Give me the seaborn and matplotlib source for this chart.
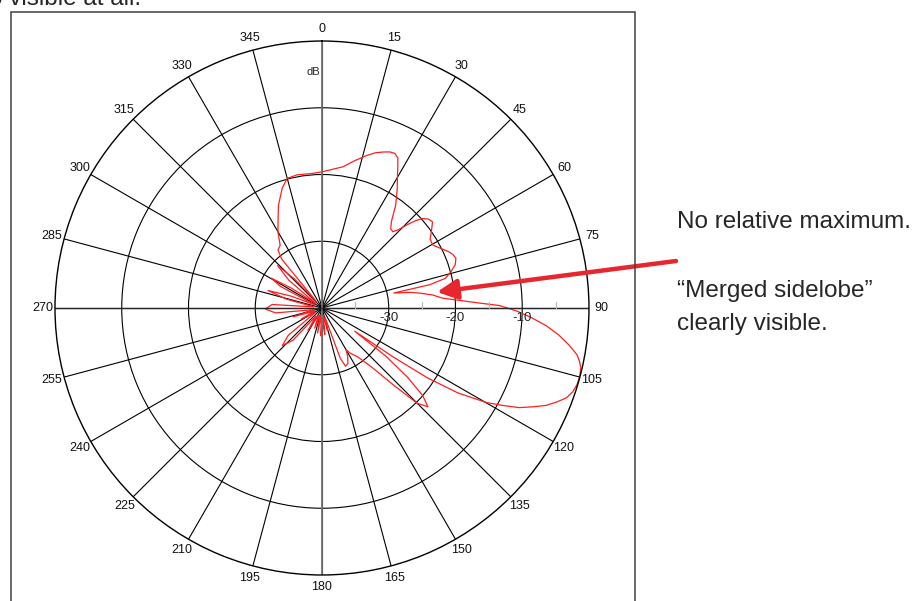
#bibliotecas
import numpy as np
import matplotlib.pyplot as plt
import seaborn as sns
from matplotlib.patches import Rectangle
from matplotlib.transforms import offset_copy

#diagrama: angulo (graus, horario a partir do topo) e nivel (dB)
angle_deg = [0, 4, 8.5, 12.5, 16.3, 19, 21.4, 23.5, 25.2, 26.8, 28, 30, 32.3, 35.7, 38.8,
             41, 42.9, 44.3, 45.5, 47, 48.4, 50.2, 52.1, 55, 57.5, 60.4, 63, 65.8, 67.8,
             69.6, 72, 74.2, 76.5, 77.8, 78.2, 80, 81.3, 83.3, 85.3, 88.2, 89.2, 90.9, 92.7,
             94.6, 96.5, 98.5, 100.4, 101.7, 103, 104.8, 106.7, 108.5, 110.2, 111.8, 113.5,
             115, 116.8, 118.3, 119.9, 122, 123.5, 124.5, 125.3, 127, 129, 131, 133, 135,
             137, 140, 144, 148, 150, 152, 155, 158, 160, 162, 166, 170, 174, 178, 182, 186,
             190, 195, 200, 206, 212, 217, 222, 226.5, 231, 236, 242, 247, 253, 258, 264,
             269, 274, 278, 284, 288, 291, 294, 297.5, 300.5, 303, 306, 310, 313.7, 316.5,
             318.8, 320.5, 322.8, 326.3, 330, 333.2, 337, 341.6, 344.9, 349.4, 354.9]
level_db = [-19.6, -19.2, -18.6, -17.4, -16.2, -15.4, -14.9, -14.5, -14.4, -14.8, -15.8,
            -17.4, -18.9, -21.1, -23.4, -24.3, -24.4, -23.6, -22.3, -20.8, -19.8, -19.2,
            -19.0, -20.0, -20.8, -20.9, -20.2, -19.3, -18.8, -18.6, -19.0, -19.9, -21.0,
            -23.5, -29.0, -26.5, -25.2, -23.3, -21.9, -16.4, -13.4, -10.8, -8.5, -6.2, -4.3,
            -2.6, -1.15, -0.6, -0.2, -0.05, -0.1, -0.4, -1.0, -2.1, -3.4, -5.0, -6.9, -9.2,
            -11.6, -16.0, -21.0, -27.0, -34.0, -28.0, -23.5, -20.0, -18.3, -19.8, -24.0,
            -28.5, -31.0, -32.0, -32.8, -31.8, -30.8, -30.6, -32.0, -38.5, -36.5, -38.8,
            -36.0, -38.8, -35.8, -38.8, -36.2, -38.8, -36.8, -38.8, -36.0, -38.5, -33.5,
            -31.8, -33.5, -38.8, -36.5, -38.8, -35.5, -38.8, -33.0, -31.5, -32.5, -38.8,
            -34.5, -31.5, -35.0, -38.8, -33.0, -31.2, -34.5, -38.8, -33.5, -30.8, -34.0,
            -38.8, -30.5, -29.1, -28.7, -26.8, -25.4, -23.3, -21.1, -19.9, -19.7, -19.8]

theta_ticks = list(range(0, 360, 15))
theta_labels = [str(t) for t in theta_ticks]
ring_db = [-30, -20, -10]
ring_labels = ['-30', '-20', '-10']
minor_r = [-35, -25, -15, -5]

sns.set_style('white')
plt.rcParams['font.family'] = ['Liberation Sans', 'DejaVu Sans']

fig = plt.figure(figsize=(9.17, 6.01), dpi=100)
ax = fig.add_axes([0.05998, 0.04326, 0.5823, 0.8885], projection='polar')
ax.set_theta_zero_location('N')
ax.set_theta_direction(-1)

#curva do diagrama
sns.lineplot(x=np.deg2rad(angle_deg + [360]), y=level_db + [level_db[0]],
             ax=ax, sort=False, estimator=None, color='#ff1f1f', lw=0.9)

ax.set_ylim(-40, 0)
ax.set_xlabel('')
ax.set_ylabel('')

#grade
ax.set_xticks(np.deg2rad(theta_ticks))
ax.set_xticklabels(theta_labels, fontsize=9, color='#111111')
ax.set_xticks(np.deg2rad(np.arange(0, 360, 5)), minor=True)
ax.set_yticks(ring_db)
ax.set_yticklabels([])
ax.grid(True, color='black', lw=0.8)
ax.tick_params(axis='x', which='major', length=0, pad=2)
ax.tick_params(axis='x', which='minor', direction='in', length=5, color='0.75', width=0.8)
ax.spines['polar'].set_color('black')
ax.spines['polar'].set_linewidth(1)

for a in [0, 180]:
    ax.axvline(np.deg2rad(a), color='0.45', lw=1.3)
for a in [90, 270]:
    ax.axvline(np.deg2rad(a), color='0.15', lw=1.0)

ax.plot(np.deg2rad([90] * len(minor_r)), minor_r, ls='none', marker=2, ms=4,
        color='0.72', mew=0.8)

lab_tr = offset_copy(ax.transData, fig=fig, x=0, y=-4, units='dots')
for r, lab in zip(ring_db, ring_labels):
    ax.text(np.deg2rad(90), r, lab, transform=lab_tr, ha='center', va='top', fontsize=9.5)

fig.text(313 / 917, 1 - 72 / 601, 'dB', ha='center', va='center', fontsize=8)

#moldura e textos
fig.add_artist(Rectangle((11 / 917, -0.05), 624 / 917, (601 - 12) / 601 + 0.05,
                         transform=fig.transFigure, fill=False, lw=1.1, edgecolor='0.25'))
fig.text(-11 / 917, 1 - 5 / 601, 'o visible at all.', fontsize=17.5, va='baseline')
fig.text(677 / 917, 1 - 228 / 601, 'No relative maximum.', fontsize=17.5, va='baseline')
fig.text(677 / 917, 1 - 297 / 601, '\u201cMerged sidelobe\u201d', fontsize=17.5, va='baseline')
fig.text(677 / 917, 1 - 330 / 601, 'clearly visible.', fontsize=17.5, va='baseline')

ax.annotate('', xy=(437, 601 - 292), xytext=(676, 601 - 261),
            xycoords='figure pixels', textcoords='figure pixels',
            arrowprops=dict(arrowstyle='-|>,head_length=0.6,head_width=0.3',
                            color='#e8262d', lw=3.2, mutation_scale=20,
                            shrinkA=0, shrinkB=0),
            annotation_clip=False)

fig.savefig('out.png', dpi=100)
